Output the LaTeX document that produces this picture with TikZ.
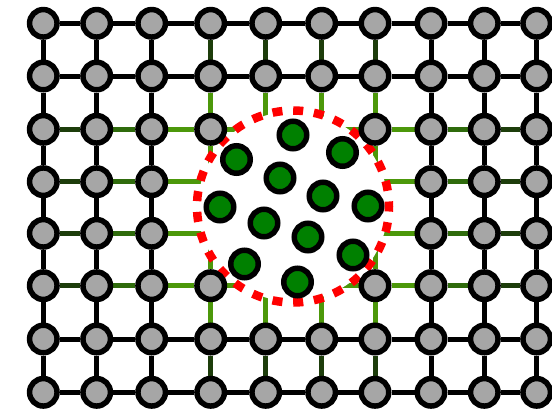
\documentclass[tikz,border=0pt]{standalone}
\definecolor{nodegray}{HTML}{A6A6A6}
\definecolor{nodegreen}{HTML}{008000}
\definecolor{gd}{HTML}{1D3D0B}
\definecolor{gm}{HTML}{2F6B0C}
\definecolor{gl}{HTML}{4C980A}
\pgfdeclarelayer{bg}
\pgfdeclarelayer{edges}
\pgfdeclarelayer{disc}
\pgfsetlayers{bg,edges,disc,main}
\tikzset{
  gnode/.style={circle, draw=black, line width=5.5pt, fill=nodegray, minimum size=27.5pt, inner sep=0pt},
  rnode/.style={circle, draw=black, line width=5.5pt, fill=nodegreen, minimum size=27.5pt, inner sep=0pt},
  edge/.style={line width=5pt},
  hole/.style={draw=red, line width=8.5pt, dash pattern=on 10pt off 10.8pt, dash phase=5pt}
}
\begin{document}
\begin{tikzpicture}[x=1pt,y=-1pt]
\useasboundingbox (0,0) rectangle (552,408);
\begin{pgfonlayer}{bg}
  \fill[white] (0,0) rectangle (552,408);
\end{pgfonlayer}
\foreach \p in {4-2,5-2,3-3,4-3,5-3,6-3,3-4,4-4,5-4,6-4,4-5,5-5}{\expandafter\gdef\csname rm-\p\endcsname{}}
\foreach \x [count=\i from 0] in {43.3,96.7,151.7,210.7,265.7,321.7,375,431,484.3,536.7}{
  \foreach \y [count=\j from 0] in {23.3,76,129.3,181.7,233.3,285.7,339,392.3}{
    \ifcsname rm-\i-\j\endcsname
      \coordinate (n-\i-\j) at (\x,\y);
    \else
      \node[gnode] (n-\i-\j) at (\x,\y) {};
    \fi
  }
}
% horizontal edges
\foreach \j in {0,...,7}{
  \foreach \i [evaluate=\i as \k using int(\i+1)] in {0,...,8}{
    \def\col{black}
    \ifnum\j>1 \ifnum\j<6
      \def\col{gl}
      \ifnum\i=0 \def\col{gd}\fi
      \ifnum\i=8 \def\col{gd}\fi
      \ifnum\i=1 \def\col{gm}\fi
      \ifnum\i=7 \def\col{gm}\fi
    \fi\fi
    \begin{pgfonlayer}{edges}
      \draw[edge,draw=\col] (n-\i-\j) -- (n-\k-\j);
    \end{pgfonlayer}
  }
}
% vertical edges
\foreach \i in {0,...,9}{
  \foreach \j [evaluate=\j as \k using int(\j+1)] in {0,...,6}{
    \def\col{black}
    \ifnum\i>2 \ifnum\i<7
      \def\col{gl}
      \ifnum\j=0 \def\col{gd}\fi
      \ifnum\j=6 \def\col{gd}\fi
    \fi\fi
    \begin{pgfonlayer}{edges}
      \draw[edge,draw=\col] (n-\i-\j) -- (n-\i-\k);
    \end{pgfonlayer}
  }
}
\begin{pgfonlayer}{disc}
  \coordinate (c) at (293,206.5);
  \fill[white] (c) circle (95);
  \draw[hole] (c) circle (96);
\end{pgfonlayer}
\node[rnode] (g1) at (293,135) {};
\node[rnode] (g2) at (236.5,159.5) {};
\node[rnode] (g3) at (342.5,152.5) {};
\node[rnode] (g4) at (280,178) {};
\node[rnode] (g5) at (323,196) {};
\node[rnode] (g6) at (368,206) {};
\node[rnode] (g7) at (220,207) {};
\node[rnode] (g8) at (264,223) {};
\node[rnode] (g9) at (308,237) {};
\node[rnode] (g10) at (353,255) {};
\node[rnode] (g11) at (244.5,264) {};
\node[rnode] (g12) at (297.5,282) {};
\end{tikzpicture}
\end{document}
